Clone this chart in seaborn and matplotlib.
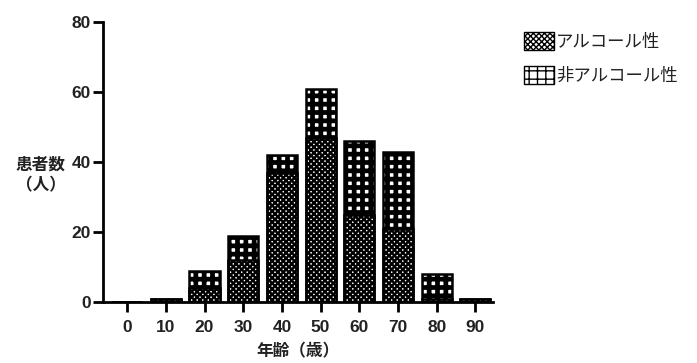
import matplotlib
matplotlib.use("Agg")
import matplotlib.pyplot as plt
import seaborn as sns
import pandas as pd
from matplotlib.patches import Patch

ages = ["0", "10", "20", "30", "40", "50", "60", "70", "80", "90"]
alcohol = [0, 1, 4, 12, 37, 47, 25, 21, 1, 1]
non_alcohol = [0, 0, 5, 7, 5, 14, 21, 22, 7, 0]
yticks = [0, 20, 40, 60, 80]
label_alc = "アルコール性"
label_non = "非アルコール性"

sns.set_theme(style="white")
plt.rcParams['font.family'] = ['Noto Sans CJK JP', 'DejaVu Sans']

df = pd.DataFrame({"age": ages, "alc": alcohol,
                   "total": [a + b for a, b in zip(alcohol, non_alcohol)]})

fig = plt.figure(figsize=(6.97, 3.63), dpi=100)
ax = fig.add_axes([0.148, 0.168, 0.559, 0.771])

HATCH_ALC = "xxxxxx"
HATCH_NON = "++"
LW_ALC = 1.7
LW_NON = 3.4


def set_hlw(p, hlw):
    if hasattr(p, "set_hatch_linewidth"):
        p.set_hatch_linewidth(hlw)
    else:
        p._hatch_linewidth = hlw


def style(p, hatch, hlw):
    p.set_hatch(hatch)
    p.set_facecolor("white")
    p.set_edgecolor("black")
    set_hlw(p, hlw)


sns.barplot(data=df, x="age", y="total", ax=ax, color="white", width=0.78,
            edgecolor="black", linewidth=1.8)
n1 = len(ax.patches)
for p in ax.patches[:n1]:
    style(p, HATCH_NON, LW_NON)
sns.barplot(data=df, x="age", y="alc", ax=ax, color="white", width=0.78,
            edgecolor="black", linewidth=1.8)
for p in ax.patches[n1:]:
    style(p, HATCH_ALC, LW_ALC)

ax.set_ylim(0, 80)
ax.set_xlim(-0.62, 9.45)
ax.set_yticks(yticks)
ax.set_yticklabels([str(v) for v in yticks])
for s in ["top", "right"]:
    ax.spines[s].set_visible(False)
for s in ["left", "bottom"]:
    ax.spines[s].set_linewidth(2)
    ax.spines[s].set_color("black")
ax.tick_params(axis="both", direction="out", length=7, width=2, colors="black",
               labelsize=12.5, left=True, bottom=True, pad=2)
ax.tick_params(axis="x", pad=6)
for t in ax.get_xticklabels() + ax.get_yticklabels():
    t.set_fontfamily(["Liberation Sans", "DejaVu Sans"])
    t.set_fontweight("bold")
    t.set_color("#222222")

ax.set_xlabel("年齢（歳）", fontsize=12, fontweight="bold", labelpad=0, color="#222222")
ax.xaxis.set_label_coords(0.5, -0.145)
ax.set_ylabel("患者数\n（人）", fontsize=12, fontweight="bold", rotation=0,
              labelpad=0, color="#222222", linespacing=1.2,
              ha="center", va="center")
ax.yaxis.set_label_coords(-0.16, 0.455)

h1 = Patch(facecolor="white", edgecolor="black", hatch=HATCH_ALC, label=label_alc)
h2 = Patch(facecolor="white", edgecolor="black", hatch=HATCH_NON, label=label_non)
set_hlw(h1, LW_ALC)
set_hlw(h2, LW_NON)
leg = fig.legend(handles=[h1, h2], loc="upper left", bbox_to_anchor=(0.742, 0.93),
                 frameon=False, fontsize=12.5, handlelength=1.7, handleheight=1.2,
                 handletextpad=0.15, labelspacing=0.85, borderaxespad=0)
for t in leg.get_texts():
    t.set_color("#222222")

fig.savefig("out.png", dpi=100, facecolor="white")
